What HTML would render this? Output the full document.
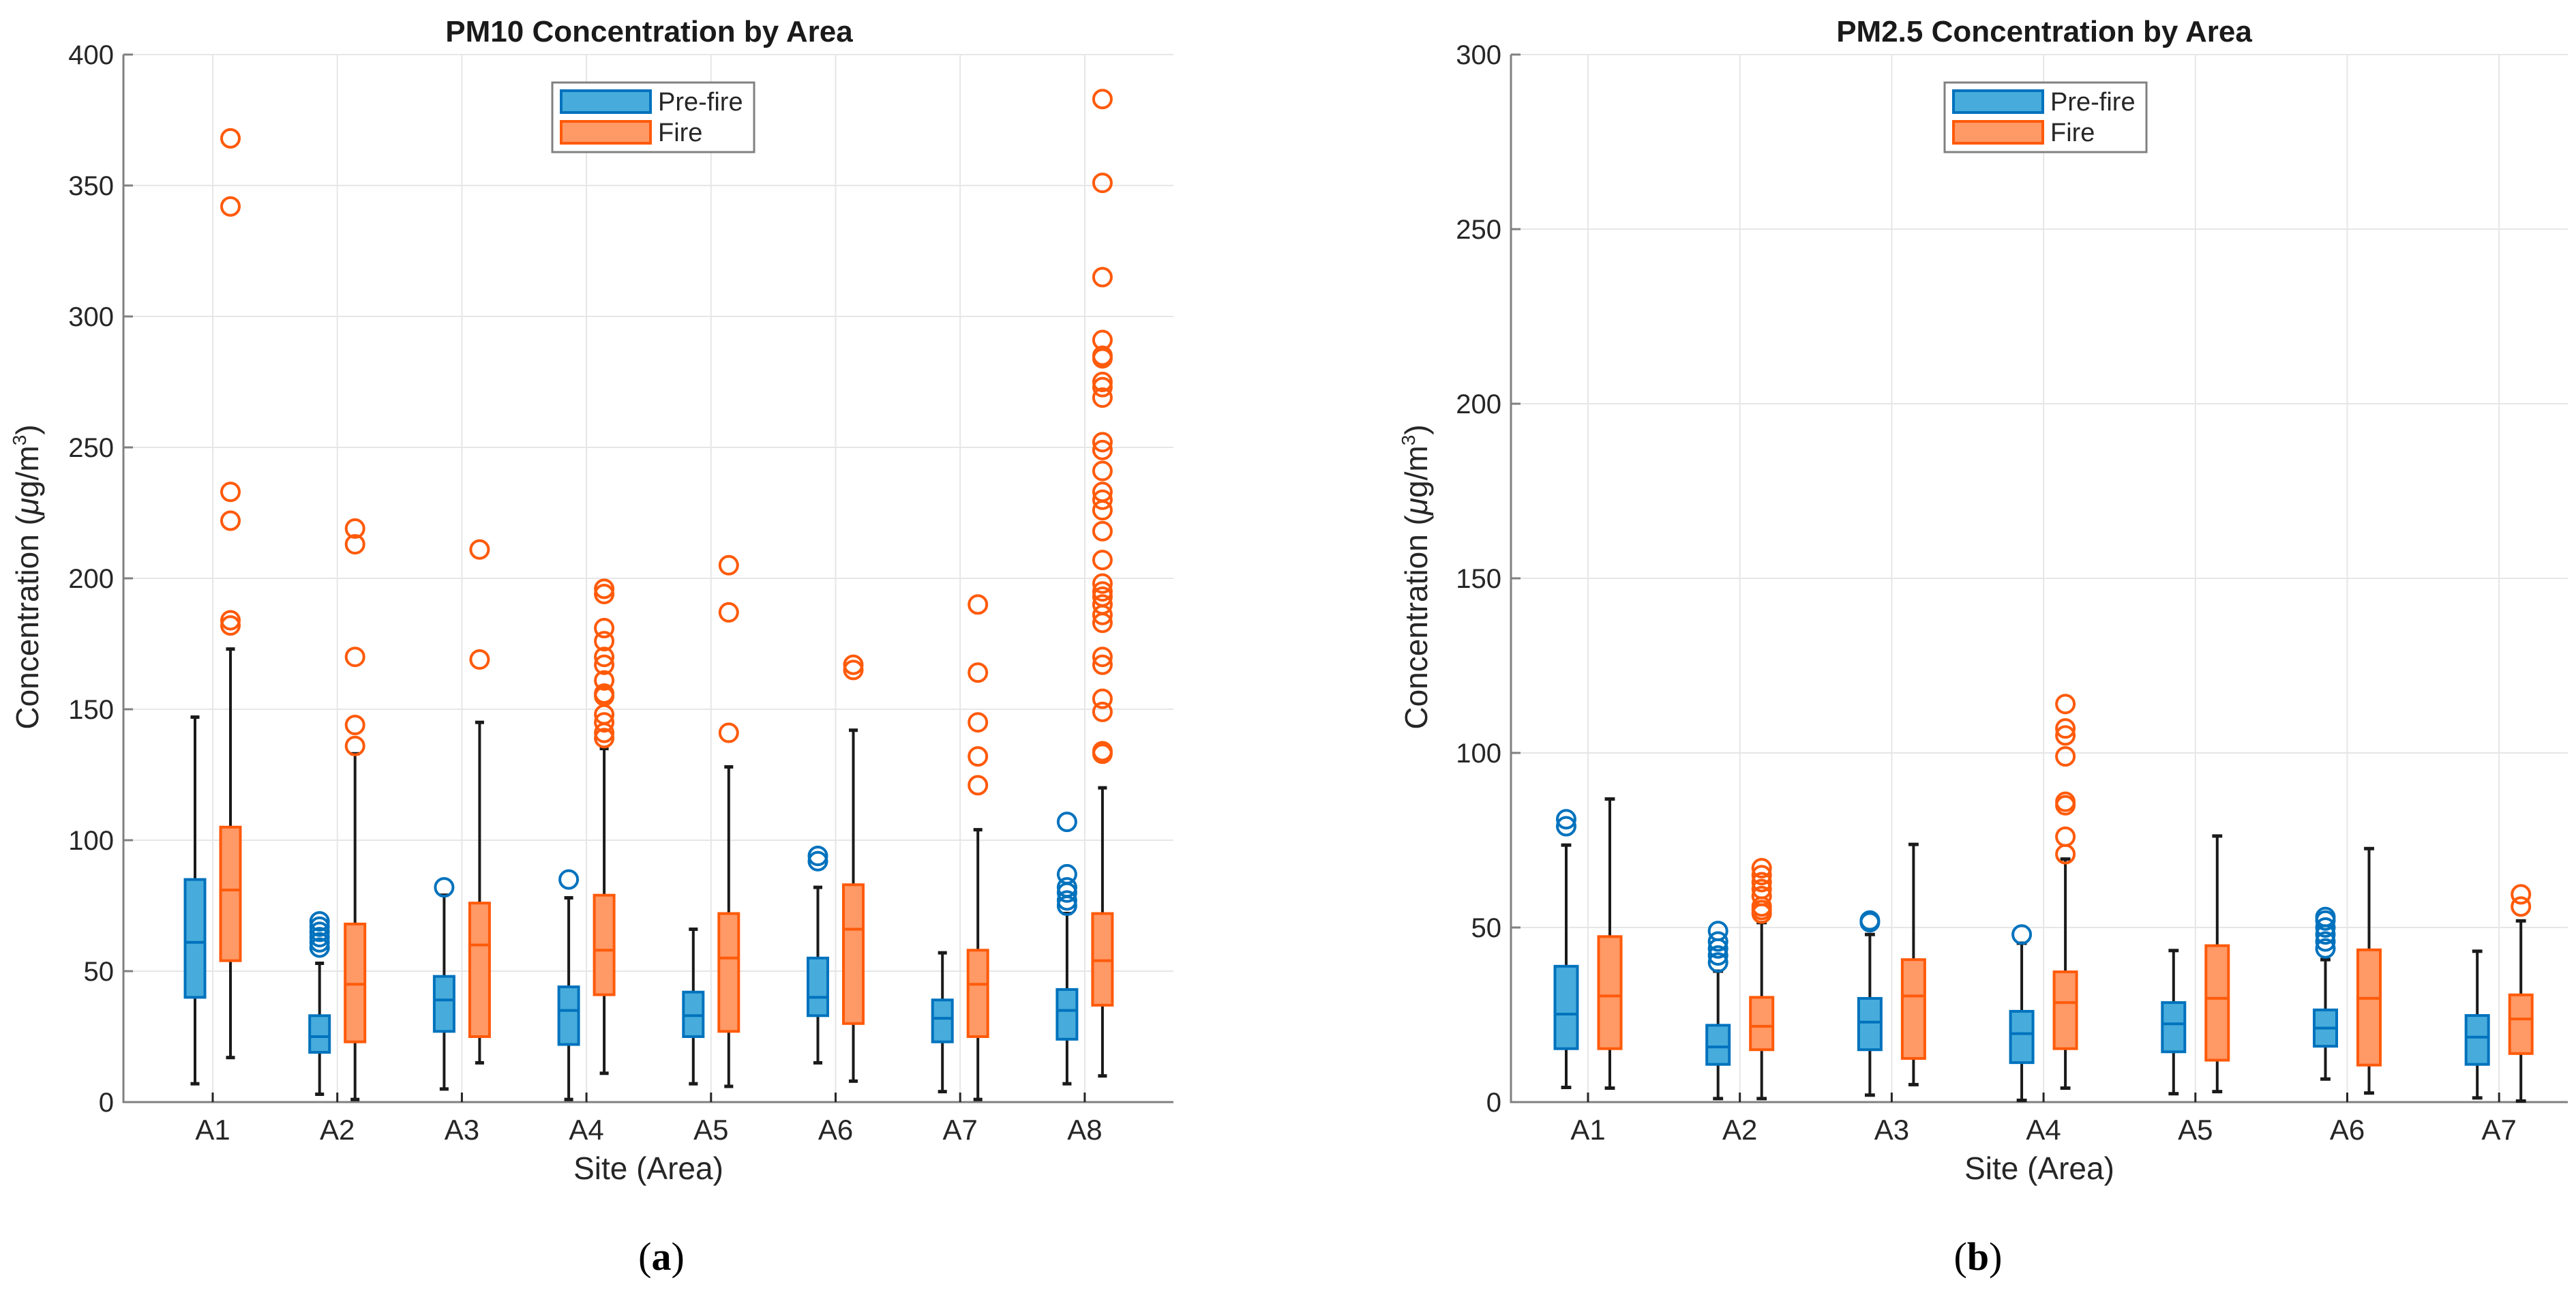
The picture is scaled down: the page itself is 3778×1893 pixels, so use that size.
<!DOCTYPE html>
<html><head><meta charset="utf-8"><style>
html,body{margin:0;padding:0;background:#fff;}
svg{display:block;font-family:"Liberation Sans",Arial,sans-serif;}
</style></head><body>
<svg id="fig" width="3778" height="1893" viewBox="0 0 3778 1893" xmlns="http://www.w3.org/2000/svg"></svg>
<script>
// PM10 data: [min, q1, median, q3, max]
const pm10Sites = ["A1","A2","A3","A4","A5","A6","A7","A8"];
const pm10Pre = [[7,40,61,85,147],[3,19,25,33,53],[5,27,39,48,79],[1,22,35,44,78],[7,25,33,42,66],[15,33,40,55,82],[4,23,32,39,57],[7,24,35,43,72]];
const pm10PreOut = [[],[59,61,63,65,67,69],[82],[85],[],[92,94],[],[75,77,80,82,87,107]];
const pm10Fire = [[17,54,81,105,173],[1,23,45,68,133],[15,25,60,76,145],[11,41,58,79,135],[6,27,55,72,128],[8,30,66,83,142],[1,25,45,58,104],[10,37,54,72,120]];
const pm10FireOut = [[182,184,222,233,342,368],[136,144,170,213,219],[169,211],[139,141,145,148,155,156,161,167,170,176,181,194,196],[141,187,205],[165,167],[121,132,145,164,190],[133,134,149,154,167,170,183,186,190,193,195,198,207,218,226,230,233,241,249,252,269,273,275,284,285,291,315,351,383]];
const pm10Ticks = [0,50,100,150,200,250,300,350,400];
// PM2.5 data
const pm25Sites = ["A1","A2","A3","A4","A5","A6","A7"];
const pm25Pre = [[4.2,15.3,25.2,38.9,73.6],[1,10.8,15.8,22,37.5],[2,15,22.9,29.7,48],[0.5,11.3,19.6,26,45.5],[2.4,14.4,22.4,28.5,43.4],[6.6,16,21.2,26.4,40.8],[1.2,10.8,18.6,24.8,43.2]];
const pm25PreOut = [[79,81],[40,42,44,46,49],[51.5,52],[48],[],[44,46,48,50,52,53],[]];
const pm25Fire = [[4,15.3,30.4,47.4,86.8],[1,15,21.7,30,51.4],[5,12.5,30.4,40.8,73.8],[4,15.3,28.5,37.3,69.6],[3,12,29.7,44.8,76.2],[2.6,10.6,29.7,43.6,72.6],[0.3,13.9,23.8,30.7,51.9]];
const pm25FireOut = [[],[54,55,56,59,61,63,65,67],[],[71,76,85,86,99,105,107,114],[],[],[56,59.5]];
const pm25Ticks = [0,50,100,150,200,250,300];

const NS="http://www.w3.org/2000/svg";
const svg=document.getElementById('fig');
function mk(tag,attrs,parent,text){const e=document.createElementNS(NS,tag);for(const k in attrs)e.setAttribute(k,attrs[k]);if(text!==undefined)e.textContent=text;(parent||svg).appendChild(e);return e;}

const PRE={fill:"#47acdb",stroke:"#0072bd"}, FIRE={fill:"#ff9966",stroke:"#ff5a0a"};

function panel(cfg){
  const g=mk('g',{});
  
  
  const y=v=>cfg.y1-(v/cfg.ymax)*(cfg.y1-cfg.y0);
  const x=i=>cfg.xA1+i*cfg.dx;
  cfg.ticks.forEach(t=>{const l=mk('line',{x1:cfg.x0,x2:cfg.x1,y1:y(t),y2:y(t),stroke:"#e6e6e6","stroke-width":2},g);
    });
  cfg.sites.forEach((s,i)=>{const l=mk('line',{x1:x(i),x2:x(i),y1:cfg.y0,y2:cfg.y1,stroke:"#e6e6e6","stroke-width":2},g);
    });
  const ax=mk('path',{d:`M${cfg.x0} ${cfg.y0} V${cfg.y1} H${cfg.x1}`,fill:"none",stroke:"#808080","stroke-width":3},g);
  
  cfg.ticks.forEach(t=>{mk('line',{x1:cfg.x0,x2:cfg.x0+14,y1:y(t),y2:y(t),stroke:"#808080","stroke-width":3},g);
    const tl=mk('text',{x:cfg.x0-14,y:y(t)+14,"text-anchor":"end","font-size":40,fill:"#262626"},g,String(t));
    });
  cfg.sites.forEach((s,i)=>{mk('line',{x1:x(i),x2:x(i),y1:cfg.y1,y2:cfg.y1-14,stroke:"#262626","stroke-width":3},g);
    const tl=mk('text',{x:x(i),y:cfg.y1+55,"text-anchor":"middle","font-size":42,fill:"#262626"},g,s);
    });
  function box(d,outs,cx,col,nm){
    const bg=mk('g',{},g);
    
    const w=cfg.bw,cap=cfg.bw*0.45;
    mk('line',{x1:cx,x2:cx,y1:y(d[0]),y2:y(d[4]),stroke:"#1a1a1a","stroke-width":4},bg);
    mk('line',{x1:cx-cap/2,x2:cx+cap/2,y1:y(d[0]),y2:y(d[0]),stroke:"#1a1a1a","stroke-width":5},bg);
    mk('line',{x1:cx-cap/2,x2:cx+cap/2,y1:y(d[4]),y2:y(d[4]),stroke:"#1a1a1a","stroke-width":5},bg);
    mk('rect',{x:cx-w/2,y:y(d[3]),width:w,height:y(d[1])-y(d[3]),fill:col.fill,stroke:col.stroke,"stroke-width":4},bg);
    mk('line',{x1:cx-w/2,x2:cx+w/2,y1:y(d[2]),y2:y(d[2]),stroke:col.stroke,"stroke-width":4},bg);
    outs.forEach(o=>{const c=mk('circle',{cx:cx,cy:y(o),r:13,fill:"none",stroke:col.stroke,"stroke-width":4},bg);
      });
  }
  cfg.sites.forEach((s,i)=>{
    box(cfg.pre[i],cfg.preOut[i],x(i)-cfg.off,PRE,'box-prefire-'+s.toLowerCase());
    box(cfg.fire[i],cfg.fireOut[i],x(i)+cfg.off,FIRE,'box-fire-'+s.toLowerCase());
  });
  const t=mk('text',{x:cfg.tx,y:61,"text-anchor":"middle","font-size":44,"font-weight":"bold",fill:"#1a1a1a"},g,cfg.title);
  
  const yl=mk('text',{transform:`translate(${cfg.ylx},846) rotate(-90)`,"text-anchor":"middle","font-size":46,fill:"#262626"},g);
  
  mk('tspan',{},yl,"Concentration (");
  mk('tspan',{"font-style":"italic"},yl,"\u03bc");
  mk('tspan',{},yl,"g/m");
  mk('tspan',{"font-size":28,dy:-18},yl,"3");
  mk('tspan',{dy:18},yl,")");
  const xl=mk('text',{x:(cfg.x0+cfg.x1)/2,y:1729,"text-anchor":"middle","font-size":46,fill:"#262626"},g,"Site (Area)");
  
  const lg=mk('g',{},g);
  
  const L=cfg.lx;
  mk('rect',{x:L,y:121,width:296,height:102,fill:"#fff",stroke:"#808080","stroke-width":3},lg);
  const e1=mk('g',{},lg);
  mk('rect',{x:L+13,y:133,width:131,height:32,fill:PRE.fill,stroke:PRE.stroke,"stroke-width":4},e1);
  mk('text',{x:L+155,y:162,"font-size":38,fill:"#262626"},e1,"Pre-fire");
  const e2=mk('g',{},lg);
  mk('rect',{x:L+13,y:178,width:131,height:32,fill:FIRE.fill,stroke:FIRE.stroke,"stroke-width":4},e2);
  mk('text',{x:L+155,y:207,"font-size":38,fill:"#262626"},e2,"Fire");
  const pl=mk('text',{x:cfg.px,y:1862,"text-anchor":"middle","font-size":58,"font-family":"'Liberation Serif',serif",fill:"#000"},g);
  
  mk('tspan',{},pl,"(");mk('tspan',{"font-weight":"bold"},pl,cfg.letter);mk('tspan',{},pl,")");
}
panel({name:'pm10-chart',sites:pm10Sites,pre:pm10Pre,preOut:pm10PreOut,fire:pm10Fire,fireOut:pm10FireOut,ticks:pm10Ticks,ymax:400,
  x0:181,x1:1721,y0:80,y1:1616,xA1:312,dx:182.7,off:26,bw:29,tx:952,title:"PM10 Concentration by Area",ylx:56,lx:810,px:970,letter:"a"});
panel({name:'pm25-chart',sites:pm25Sites,pre:pm25Pre,preOut:pm25PreOut,fire:pm25Fire,fireOut:pm25FireOut,ticks:pm25Ticks,ymax:300,
  x0:2216,x1:3766,y0:80,y1:1616,xA1:2329,dx:222.7,off:32,bw:33,tx:2998,title:"PM2.5 Concentration by Area",ylx:2093,lx:2852,px:2901,letter:"b"});
</script>
</body></html>
